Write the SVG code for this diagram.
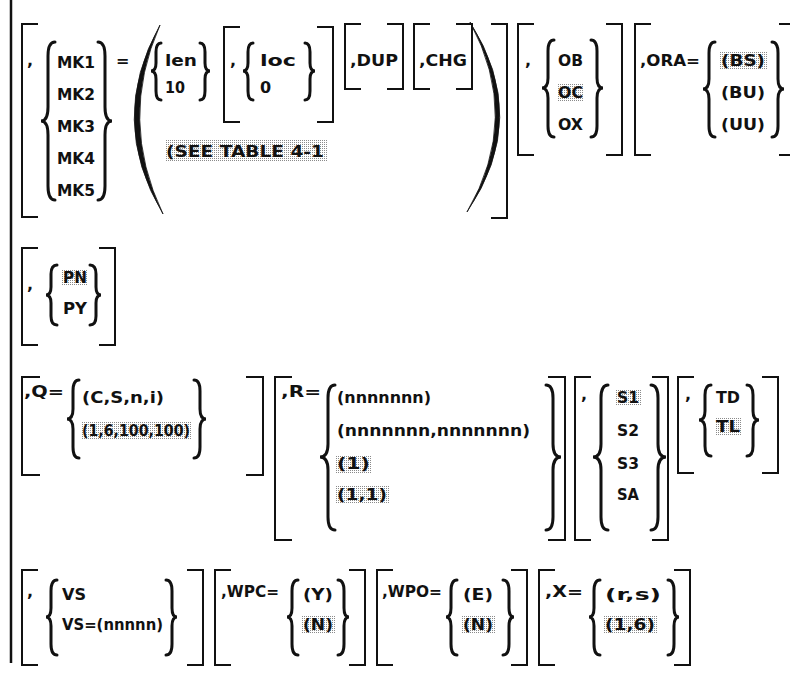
<svg xmlns="http://www.w3.org/2000/svg" width="790" height="677" viewBox="0 0 790 677">
  <style>
    text { font-family: "DejaVu Sans", "Liberation Sans", sans-serif; font-weight: bold; font-size: 16px; fill: #111; }
    .br { fill: none; stroke: #111; stroke-width: 2; }
    .cb { fill: none; stroke: #111; stroke-width: 3; stroke-linecap: round; }
    .pr { fill: #111; stroke: #111; stroke-width: 0.8; }
    .hl { fill: url(#dots); }
  </style>
  <defs>
    <!-- halftone shading for default values -->
    <pattern id="dots" width="2" height="2" patternUnits="userSpaceOnUse">
      <rect width="2" height="2" fill="#ffffff"/>
      <rect width="1" height="1" fill="#8a8a8a"/>
    </pattern>
  </defs>
  <rect width="790" height="677" fill="#fff"/>

  <!-- change bar along the left margin -->
  <g id="margin-rule">
    <line x1="11" y1="0" x2="11" y2="663" stroke="#111" stroke-width="2.5"/>
  </g>

  <!-- ===== row 1 ===== -->
  <g id="mk-group">
    <path class="br" d="M38 24 H22 V217 H38"/>
    <text x="27" y="66">,</text>
    <path class="cb" d="M55 42 Q48 42 48 56 L48 107 Q48 121 41 121 Q48 121 48 135 L48 186 Q48 200 55 200"/>
    <text x="57" y="68" textLength="38" lengthAdjust="spacingAndGlyphs">MK1</text>
    <text x="57" y="100" textLength="38" lengthAdjust="spacingAndGlyphs">MK2</text>
    <text x="57" y="132" textLength="38" lengthAdjust="spacingAndGlyphs">MK3</text>
    <text x="57" y="164" textLength="38" lengthAdjust="spacingAndGlyphs">MK4</text>
    <text x="57" y="196" textLength="38" lengthAdjust="spacingAndGlyphs">MK5</text>
    <path class="cb" d="M98 42 Q105 42 105 56 L105 107 Q105 121 112 121 Q105 121 105 135 L105 186 Q105 200 98 200"/>
    <text x="116" y="66">=</text>
    <path class="pr" d="M160 25 Q107 120 163 214 Q118 120 160 25 Z"/>
  </g>

  <g id="len-group">
    <path class="cb" d="M161 43 Q156 43 156 52 L156 63 Q156 71 151 71 Q156 71 156 79 L156 91 Q156 100 161 100"/>
    <text x="165" y="66" textLength="32" lengthAdjust="spacingAndGlyphs">len</text>
    <text x="165" y="93" textLength="20" lengthAdjust="spacingAndGlyphs">10</text>
    <path class="cb" d="M200 43 Q205 43 205 52 L205 63 Q205 71 210 71 Q205 71 205 79 L205 91 Q205 100 200 100"/>
  </g>

  <g id="loc-group">
    <path class="br" d="M240 27 H224 V122 H240"/>
    <text x="230" y="66">,</text>
    <path class="cb" d="M253 43 Q248 43 248 52 L248 63 Q248 71 243 71 Q248 71 248 79 L248 91 Q248 100 253 100"/>
    <text x="260" y="66" textLength="36" lengthAdjust="spacingAndGlyphs">loc</text>
    <text x="260" y="93">0</text>
    <path class="cb" d="M305 43 Q310 43 310 52 L310 63 Q310 71 315 71 Q310 71 310 79 L310 91 Q310 100 305 100"/>
    <path class="br" d="M317 27 H333 V122 H317"/>
  </g>

  <g id="see-table">
    <rect class="hl" x="165" y="140" width="162" height="21"/>
    <text x="166" y="157" textLength="158" lengthAdjust="spacingAndGlyphs">(SEE TABLE 4-1</text>
  </g>

  <g id="dup-group">
    <path class="br" d="M361 24 H345 V89 H361"/>
    <text x="350" y="66" textLength="48" lengthAdjust="spacingAndGlyphs">,DUP</text>
    <path class="br" d="M387 24 H403 V89 H387"/>
  </g>

  <g id="chg-group">
    <path class="br" d="M430 24 H414 V89 H430"/>
    <text x="419" y="66" textLength="48" lengthAdjust="spacingAndGlyphs">,CHG</text>
    <path class="br" d="M456 24 H472 V89 H456"/>
    <path class="pr" d="M470 22 Q531 118 467 212 Q522 118 470 22 Z"/>
    <path class="br" d="M491 24 H507 V218 H491"/>
  </g>

  <g id="ob-group">
    <path class="br" d="M534 24 H518 V155 H534"/>
    <text x="525" y="66">,</text>
    <path class="cb" d="M554 40 Q548 40 548 51 L548 78 Q548 88 542 88 Q548 88 548 98 L548 126 Q548 137 554 137"/>
    <text x="558" y="66" textLength="25" lengthAdjust="spacingAndGlyphs">OB</text>
    <rect class="hl" x="557" y="84" width="27" height="17"/>
    <text x="558" y="98" textLength="25" lengthAdjust="spacingAndGlyphs">OC</text>
    <text x="558" y="130" textLength="25" lengthAdjust="spacingAndGlyphs">OX</text>
    <path class="cb" d="M591 40 Q597 40 597 51 L597 78 Q597 88 603 88 Q597 88 597 98 L597 126 Q597 137 591 137"/>
    <path class="br" d="M606 24 H622 V155 H606"/>
  </g>

  <g id="ora-group">
    <path class="br" d="M651 24 H635 V155 H651"/>
    <text x="640" y="66" textLength="60" lengthAdjust="spacingAndGlyphs">,ORA=</text>
    <path class="cb" d="M715 42 Q709 42 709 53 L709 79 Q709 89 703 89 Q709 89 709 99 L709 126 Q709 137 715 137"/>
    <rect class="hl" x="720" y="51" width="47" height="18"/>
    <text x="721" y="66" textLength="44" lengthAdjust="spacingAndGlyphs">(BS)</text>
    <text x="721" y="98" textLength="44" lengthAdjust="spacingAndGlyphs">(BU)</text>
    <text x="721" y="130" textLength="44" lengthAdjust="spacingAndGlyphs">(UU)</text>
    <path class="cb" d="M772 42 Q778 42 778 53 L778 79 Q778 89 784 89 Q778 89 778 99 L778 126 Q778 137 772 137"/>
    <path class="br" d="M779 24 H792 V155 H779"/>
  </g>

  <!-- ===== row 2 ===== -->
  <g id="p-group">
    <path class="br" d="M38 248 H22 V345 H38"/>
    <text x="27" y="290">,</text>
    <path class="cb" d="M57 265 Q51 265 51 274 L51 287 Q51 295 46 295 Q51 295 51 303 L51 316 Q51 325 57 325"/>
    <rect class="hl" x="62" y="269" width="26" height="17"/>
    <text x="63" y="283" textLength="24" lengthAdjust="spacingAndGlyphs">PN</text>
    <text x="63" y="314" textLength="24" lengthAdjust="spacingAndGlyphs">PY</text>
    <path class="cb" d="M90 265 Q96 265 96 274 L96 287 Q96 295 101 295 Q96 295 96 303 L96 316 Q96 325 90 325"/>
    <path class="br" d="M99 248 H115 V345 H99"/>
  </g>

  <!-- ===== row 3 ===== -->
  <g id="q-group">
    <path class="br" d="M40 377 H22 V475 H40"/>
    <text x="24" y="397" textLength="40" lengthAdjust="spacingAndGlyphs">,Q=</text>
    <path class="cb" d="M79 380 Q73 380 73 391 L73 409 Q73 419 67 419 Q73 419 73 429 L73 447 Q73 458 79 458"/>
    <text x="82" y="403" textLength="82" lengthAdjust="spacingAndGlyphs">(C,S,n,i)</text>
    <rect class="hl" x="81" y="422" width="111" height="18"/>
    <text x="82" y="436" textLength="108" lengthAdjust="spacingAndGlyphs">(1,6,100,100)</text>
    <path class="cb" d="M194 380 Q200 380 200 391 L200 409 Q200 419 206 419 Q200 419 200 429 L200 447 Q200 458 194 458"/>
    <path class="br" d="M246 377 H263 V475 H246"/>
  </g>

  <g id="r-group">
    <path class="br" d="M292 377 H275 V540 H292"/>
    <text x="281" y="397" textLength="40" lengthAdjust="spacingAndGlyphs">,R=</text>
    <path class="cb" d="M335 385 Q328 385 328 398 L328 444 Q328 457 320 457 Q328 457 328 470 L328 517 Q328 530 335 530"/>
    <text x="337" y="403" textLength="94" lengthAdjust="spacingAndGlyphs">(nnnnnnn)</text>
    <text x="337" y="436" textLength="193" lengthAdjust="spacingAndGlyphs">(nnnnnnn,nnnnnnn)</text>
    <rect class="hl" x="336" y="455" width="36" height="18"/>
    <text x="337" y="469" textLength="33" lengthAdjust="spacingAndGlyphs">(1)</text>
    <rect class="hl" x="336" y="486" width="53" height="18"/>
    <text x="337" y="500" textLength="50" lengthAdjust="spacingAndGlyphs">(1,1)</text>
    <path class="cb" d="M546 385 Q553 385 553 398 L553 444 Q553 457 561 457 Q553 457 553 470 L553 517 Q553 530 546 530"/>
    <path class="br" d="M548 377 H565 V540 H548"/>
  </g>

  <g id="s-group">
    <path class="br" d="M591 377 H575 V540 H591"/>
    <text x="581" y="400">,</text>
    <path class="cb" d="M608 385 Q601 385 601 398 L601 444 Q601 457 593 457 Q601 457 601 470 L601 517 Q601 530 608 530"/>
    <rect class="hl" x="616" y="389" width="25" height="17"/>
    <text x="617" y="403" textLength="22" lengthAdjust="spacingAndGlyphs">S1</text>
    <text x="617" y="436" textLength="22" lengthAdjust="spacingAndGlyphs">S2</text>
    <text x="617" y="469" textLength="22" lengthAdjust="spacingAndGlyphs">S3</text>
    <text x="617" y="500" textLength="22" lengthAdjust="spacingAndGlyphs">SA</text>
    <path class="cb" d="M651 385 Q658 385 658 398 L658 444 Q658 457 666 457 Q658 457 658 470 L658 517 Q658 530 651 530"/>
    <path class="br" d="M652 377 H668 V540 H652"/>
  </g>

  <g id="t-group">
    <path class="br" d="M694 377 H678 V473 H694"/>
    <text x="685" y="400">,</text>
    <path class="cb" d="M711 385 Q705 385 705 395 L705 411 Q705 420 699 420 Q705 420 705 429 L705 446 Q705 456 711 456"/>
    <text x="716" y="403" textLength="24" lengthAdjust="spacingAndGlyphs">TD</text>
    <rect class="hl" x="715" y="418" width="26" height="17"/>
    <text x="716" y="432" textLength="24" lengthAdjust="spacingAndGlyphs">TL</text>
    <path class="cb" d="M747 385 Q753 385 753 395 L753 411 Q753 420 759 420 Q753 420 753 429 L753 446 Q753 456 747 456"/>
    <path class="br" d="M762 377 H778 V473 H762"/>
  </g>

  <!-- ===== row 4 ===== -->
  <g id="vs-group">
    <path class="br" d="M38 570 H22 V665 H38"/>
    <text x="27" y="597">,</text>
    <path class="cb" d="M57 580 Q51 580 51 591 L51 608 Q51 617 46 617 Q51 617 51 626 L51 644 Q51 655 57 655"/>
    <text x="62" y="600" textLength="24" lengthAdjust="spacingAndGlyphs">VS</text>
    <text x="62" y="630" textLength="101" lengthAdjust="spacingAndGlyphs">VS=(nnnnn)</text>
    <path class="cb" d="M166 580 Q172 580 172 591 L172 608 Q172 617 177 617 Q172 617 172 626 L172 644 Q172 655 166 655"/>
    <path class="br" d="M187 570 H203 V665 H187"/>
  </g>

  <g id="wpc-group">
    <path class="br" d="M231 570 H215 V665 H231"/>
    <text x="221" y="597" textLength="58" lengthAdjust="spacingAndGlyphs">,WPC=</text>
    <path class="cb" d="M298 580 Q292 580 292 591 L292 608 Q292 617 287 617 Q292 617 292 626 L292 644 Q292 655 298 655"/>
    <text x="303" y="600" textLength="30" lengthAdjust="spacingAndGlyphs">(Y)</text>
    <rect class="hl" x="302" y="616" width="33" height="18"/>
    <text x="303" y="630" textLength="30" lengthAdjust="spacingAndGlyphs">(N)</text>
    <path class="cb" d="M338 580 Q344 580 344 591 L344 608 Q344 617 349 617 Q344 617 344 626 L344 644 Q344 655 338 655"/>
    <path class="br" d="M349 570 H365 V665 H349"/>
  </g>

  <g id="wpo-group">
    <path class="br" d="M393 570 H377 V665 H393"/>
    <text x="382" y="597" textLength="60" lengthAdjust="spacingAndGlyphs">,WPO=</text>
    <path class="cb" d="M457 580 Q451 580 451 591 L451 608 Q451 617 446 617 Q451 617 451 626 L451 644 Q451 655 457 655"/>
    <text x="463" y="600" textLength="30" lengthAdjust="spacingAndGlyphs">(E)</text>
    <rect class="hl" x="462" y="616" width="33" height="18"/>
    <text x="463" y="630" textLength="30" lengthAdjust="spacingAndGlyphs">(N)</text>
    <path class="cb" d="M503 580 Q509 580 509 591 L509 608 Q509 617 514 617 Q509 617 509 626 L509 644 Q509 655 503 655"/>
    <path class="br" d="M511 570 H527 V665 H511"/>
  </g>

  <g id="x-group">
    <path class="br" d="M555 570 H539 V665 H555"/>
    <text x="545" y="597" textLength="38" lengthAdjust="spacingAndGlyphs">,X=</text>
    <path class="cb" d="M600 580 Q594 580 594 591 L594 608 Q594 617 589 617 Q594 617 594 626 L594 644 Q594 655 600 655"/>
    <text x="605" y="600" textLength="56" lengthAdjust="spacingAndGlyphs">(r,s)</text>
    <rect class="hl" x="604" y="616" width="53" height="18"/>
    <text x="605" y="630" textLength="50" lengthAdjust="spacingAndGlyphs">(1,6)</text>
    <path class="cb" d="M668 580 Q674 580 674 591 L674 608 Q674 617 679 617 Q674 617 674 626 L674 644 Q674 655 668 655"/>
    <path class="br" d="M674 570 H690 V665 H674"/>
  </g>
</svg>
